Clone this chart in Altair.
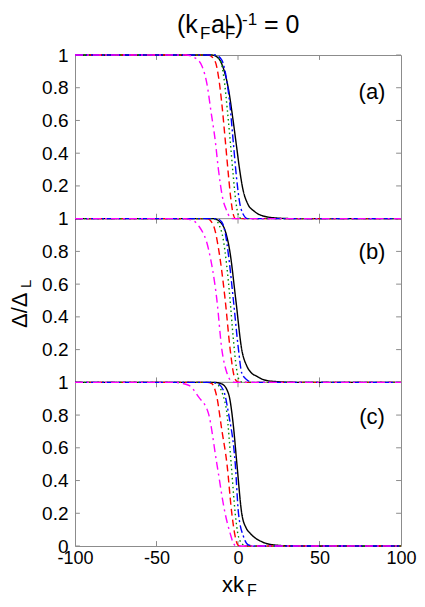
import altair as alt
import pandas as pd

FONT = "Liberation Sans"

# ---------------- data ----------------
x_ticks = [-100, -50, 0, 50, 100]
y_tick_vals = [0.2, 0.4, 0.6, 0.8, 1.0]
panel_names = ["(a)", "(b)", "(c)"]
panel_offsets = [2, 1, 0]
series_names = ["black", "red", "green", "blue", "magenta"]
series_colors = ["#000000", "#ff0000", "#008c00", "#0000ff", "#ff00ff"]
series_dash = [[1, 0], [7, 4], [1.5, 3], [8, 3, 2, 3], [8, 4, 2, 4]]

# panel (a)
a_black_x = [-100, -16, -12, -9, -6, -3, -1, 1, 3, 6, 10, 16, 24, 35, 100]
a_black_y = [1, 1, 0.98, 0.92, 0.8, 0.6, 0.45, 0.3, 0.18, 0.09, 0.045, 0.015, 0.004, 0, 0]
a_blue_x = [-100, -14, -10, -7, -5, -3, -1, 1, 3, 6, 100]
a_blue_y = [1, 1, 0.97, 0.85, 0.7, 0.48, 0.26, 0.1, 0.03, 0, 0]
a_green_x = [-100, -15, -11, -8.5, -6.5, -5, -3, -1.5, 0, 2, 100]
a_green_y = [1, 1, 0.97, 0.85, 0.66, 0.5, 0.27, 0.12, 0.03, 0, 0]
a_red_x = [-100, -18, -14, -12, -10, -8, -6, -4.5, -3, -1.5, 100]
a_red_y = [1, 1, 0.96, 0.87, 0.71, 0.5, 0.28, 0.13, 0.03, 0, 0]
a_magenta_x = [-100, -32, -26, -22, -19, -16.5, -14, -12, -9.5, -7, -5, -3, 100]
a_magenta_y = [1, 1, 0.98, 0.93, 0.82, 0.65, 0.48, 0.3, 0.13, 0.05, 0.01, 0, 0]

# panel (b)
b_black_x = [-100, -15, -11, -8, -5, -1.3, 2.3, 5.4, 8, 11.5, 16, 23, 35, 100]
b_black_y = [1, 1, 0.98, 0.93, 0.8, 0.5, 0.2, 0.1, 0.06, 0.037, 0.015, 0.005, 0, 0]
b_blue_x = [-100, -13, -10, -7.9, -5.5, -2.8, 0.3, 2.3, 5.4, 9, 100]
b_blue_y = [1, 1, 0.98, 0.916, 0.75, 0.5, 0.2, 0.057, 0.016, 0, 0]
b_green_x = [-100, -15, -11.5, -9, -7, -5, -3, -1, 1, 3, 100]
b_green_y = [1, 1, 0.96, 0.87, 0.72, 0.52, 0.28, 0.09, 0.01, 0, 0]
b_red_x = [-100, -19, -15, -11.9, -7.9, -4.8, -2.8, -0.7, 1, 100]
b_red_y = [1, 1, 0.957, 0.814, 0.507, 0.2, 0.057, 0.006, 0, 0]
b_magenta_x = [-100, -34, -28, -24.2, -18.1, -13, -9.9, -6.8, -3.8, -2, 100]
b_magenta_y = [1, 1, 0.99, 0.957, 0.814, 0.507, 0.2, 0.057, 0.006, 0, 0]

# panel (c)
c_black_x = [-100, -15, -9.9, -5.8, -3, -0.7, 2.3, 5, 7.5, 14.6, 22.8, 35, 100]
c_black_y = [1, 1, 0.99, 0.93, 0.75, 0.504, 0.199, 0.11, 0.077, 0.026, 0.006, 0, 0]
c_blue_x = [-100, -15, -11.9, -8.5, -5.8, -1.7, 0.3, 3.4, 6.4, 10, 100]
c_blue_y = [1, 1, 0.99, 0.94, 0.809, 0.504, 0.199, 0.057, 0.006, 0, 0]
c_green_x = [-100, -16, -13, -9.5, -6.8, -4.2, -1.7, 0.3, 3.4, 6, 100]
c_green_y = [1, 1, 0.99, 0.93, 0.809, 0.504, 0.199, 0.057, 0.006, 0, 0]
c_red_x = [-100, -19, -16, -13, -9.9, -6.8, -3.8, -1.7, -0.1, 1.5, 100]
c_red_y = [1, 1, 0.992, 0.911, 0.707, 0.504, 0.199, 0.057, 0.006, 0, 0]
c_magenta_x = [-100, -40, -30.3, -24.2, -18.1, -13, -7.9, -4.8, -2.8, -1, 100]
c_magenta_y = [1, 1, 0.982, 0.911, 0.809, 0.504, 0.199, 0.077, 0.016, 0, 0]

curves = {
    "(a)": {"black": (a_black_x, a_black_y), "red": (a_red_x, a_red_y),
            "green": (a_green_x, a_green_y), "blue": (a_blue_x, a_blue_y),
            "magenta": (a_magenta_x, a_magenta_y)},
    "(b)": {"black": (b_black_x, b_black_y), "red": (b_red_x, b_red_y),
            "green": (b_green_x, b_green_y), "blue": (b_blue_x, b_blue_y),
            "magenta": (b_magenta_x, b_magenta_y)},
    "(c)": {"black": (c_black_x, c_black_y), "red": (c_red_x, c_red_y),
            "green": (c_green_x, c_green_y), "blue": (c_blue_x, c_blue_y),
            "magenta": (c_magenta_x, c_magenta_y)},
}

rows = []
for pname, off in zip(panel_names, panel_offsets):
    for s in series_names:
        xs, ys = curves[pname][s]
        for i, (xv, yv) in enumerate(zip(xs, ys)):
            rows.append({"panel": pname, "series": s, "x": xv, "v": yv,
                         "yy": yv + off, "i": i})
df = pd.DataFrame(rows)

# ---------------- chart ----------------
W, H = 326, 491
xscale = alt.Scale(domain=[-100, 100], nice=False, zero=False)
yscale = alt.Scale(domain=[0, 3], nice=False, zero=False)
GRAY = "#8c8c8c"
DX = 2  # text shift compensating the 2px left shift of the plot area

y_axis_vals = [0] + [round(o + t, 1) for o in panel_offsets for t in y_tick_vals]
label_expr = ("datum.value == 0 ? '0' : (abs(datum.value - round(datum.value)) < 0.01 ? '1' : "
              "format(datum.value - floor(datum.value), '.1f'))")

X_AXIS = alt.Axis(values=x_ticks, title=None, ticks=False, domain=False, grid=False,
                  labelFontSize=18, labelFont=FONT, labelColor="black",
                  labelFlush=False, labelOverlap=False, labelPadding=3,
                  labelExpr="'' + datum.value")
Y_AXIS = alt.Axis(values=y_axis_vals, title=None, ticks=False, domain=False, grid=False,
                  labelFontSize=19, labelFont=FONT, labelColor="black",
                  labelFlush=False, labelOverlap=False, labelPadding=7,
                  labelExpr=label_expr)

layers = []

# panel separators
sep_df = pd.DataFrame({"b": [1, 2]})
layers.append(alt.Chart(sep_df).mark_rule(color=GRAY, strokeWidth=1).encode(
    y=alt.Y("b:Q", scale=yscale, axis=Y_AXIS)))

# x ticks (inward) at panel boundaries
tick_len = 0.03
xt_rows = []
for xv in x_ticks[1:-1]:
    for b in [0, 1, 2, 3]:
        xt_rows.append({"x": xv, "y1": max(0, b - tick_len), "y2": min(3, b + tick_len)})
xt_df = pd.DataFrame(xt_rows)
layers.append(alt.Chart(xt_df).mark_rule(color=GRAY, strokeWidth=1).encode(
    x=alt.X("x:Q", scale=xscale, axis=X_AXIS),
    y=alt.Y("y1:Q", scale=yscale, axis=Y_AXIS), y2="y2:Q"))

# y ticks (inward) on both sides
yt_rows = []
for yv in y_axis_vals:
    yt_rows.append({"y": yv, "x1": -100, "x2": -97})
    yt_rows.append({"y": yv, "x1": 97, "x2": 100})
yt_df = pd.DataFrame(yt_rows)
layers.append(alt.Chart(yt_df).mark_rule(color=GRAY, strokeWidth=1).encode(
    x=alt.X("x1:Q", scale=xscale, axis=X_AXIS), x2="x2:Q",
    y=alt.Y("y:Q", scale=yscale, axis=Y_AXIS)))

# curves
for s, col, dash in zip(series_names, series_colors, series_dash):
    sub = df[df["series"] == s]
    layers.append(alt.Chart(sub).mark_line(
        color=col, strokeWidth=1.4, strokeDash=dash, interpolate="monotone").encode(
        x=alt.X("x:Q", scale=xscale, axis=X_AXIS),
        y=alt.Y("yy:Q", scale=yscale, axis=Y_AXIS),
        detail="panel:N", order="i:Q"))


def txt(s, x, y, size, angle=0, align="left"):
    return alt.Chart(alt.Data(values=[{"t": s}])).mark_text(
        text=s, font=FONT, fontSize=size, color="black", align=align,
        baseline="alphabetic").encode(x=alt.value(x + DX), y=alt.value(y),
                                      angle=alt.value(angle))


# title (k_F a_F^L)^-1 = 0
layers += [
    txt("(k", 100, -22, 25),
    txt("F", 123, -16, 17),
    txt("a", 134, -22, 25),
    txt("F", 148, -16, 17),
    txt("L", 148, -28, 17),
    txt(")", 158, -22, 25),
    txt("-1", 165, -30, 17),
    txt("= 0", 187, -22, 25),
]

# panel labels
layers += [
    txt("(a)", 295, 43.5, 22, align="center"),
    txt("(b)", 295, 204, 22, align="center"),
    txt("(c)", 295, 368.5, 22, align="center"),
]

# x title xk_F
layers += [txt("xk", 145, 537, 22), txt("F", 170, 541, 16)]

# y title Δ/Δ_L (rotated)
layers += [txt("Δ/Δ", -50, 273, 22, angle=270), txt("L", -46, 233, 15, angle=270)]

chart = alt.layer(*layers).properties(
    width=W, height=H,
    autosize=alt.AutoSizeParams(type="none"),
    padding={"left": 67, "top": 47, "right": 16, "bottom": 53},
).configure_view(stroke=GRAY, strokeWidth=1)

chart.save("out.html", embed_options={"renderer": "svg", "actions": False})
